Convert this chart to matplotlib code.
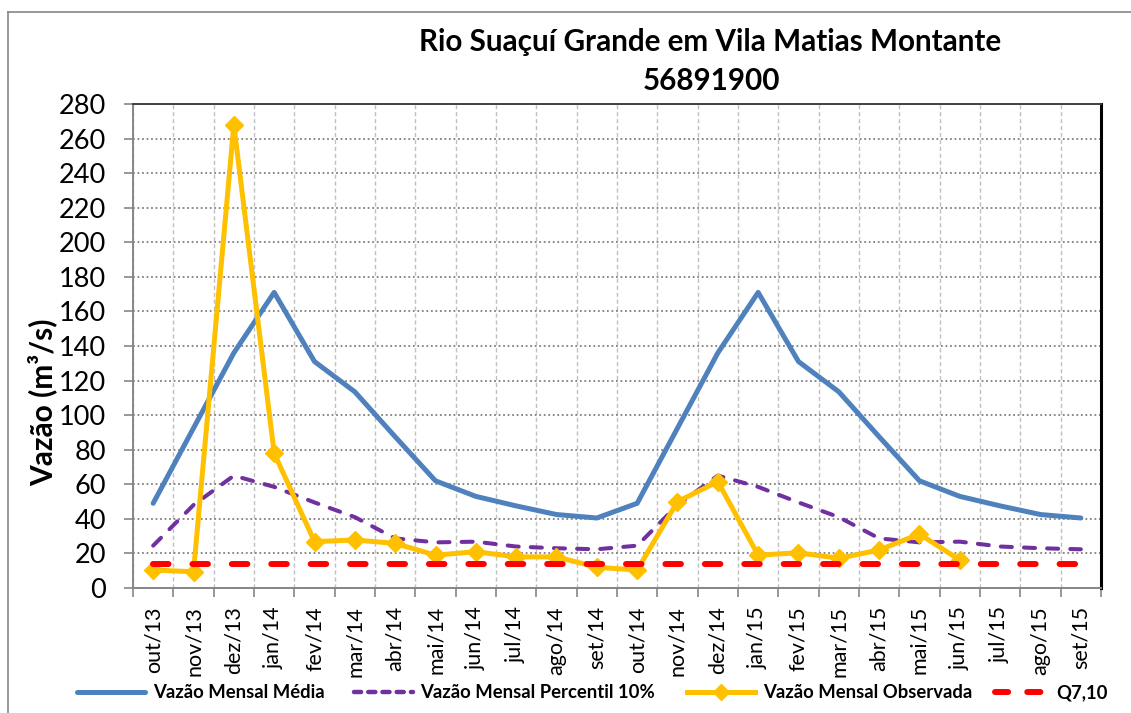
import numpy as np
import matplotlib
matplotlib.use('Agg')
import matplotlib.pyplot as plt
from matplotlib.lines import Line2D

plt.rcParams['font.family'] = ['Lato', 'DejaVu Sans']

meses = ['out/13', 'nov/13', 'dez/13', 'jan/14', 'fev/14', 'mar/14', 'abr/14', 'mai/14',
         'jun/14', 'jul/14', 'ago/14', 'set/14', 'out/14', 'nov/14', 'dez/14', 'jan/15',
         'fev/15', 'mar/15', 'abr/15', 'mai/15', 'jun/15', 'jul/15', 'ago/15', 'set/15']

# vazao media mensal (m3/s)
media = [49, 92.5, 136, 171, 131, 113.5, 87.5, 62, 53, 47.5, 42.5, 40.5,
         49, 92.5, 136, 171, 131, 113.5, 87.5, 62, 53, 47.5, 42.5, 40.5]
# percentil 10%
percentil10 = [24.5, 48, 65, 58.5, 49.5, 41, 28.7, 26.4, 26.8, 24, 23, 22.4,
               24.5, 48, 65, 58.5, 49.5, 41, 28.7, 26.4, 26.8, 24, 23, 22.4]
# vazao observada (sem dados depois de jun/15)
observada = [10.4, 9.4, 268, 78, 26.8, 27.8, 25.8, 19, 21, 18, 18, 12,
             10.4, 50, 61.5, 19, 20.4, 17.2, 22, 31.2, 16.2, None, None, None]
q710 = 13.7

x = np.arange(len(meses))
obs = np.array([np.nan if v is None else v for v in observada], dtype=float)

fig = plt.figure(figsize=(11.31, 7.13), dpi=100)
ax = fig.add_axes([133/1131, 1 - 588/713, 968/1131, 484/713])

ax.plot(x, media, color='#4F81BD', lw=3.6, solid_capstyle='round', zorder=3)
ax.plot(x, percentil10, color='#7030A0', lw=2.9, dashes=(2.75, 3.0),
        dash_capstyle='round', zorder=3)
ax.plot(x, obs, color='#FFC000', lw=3.6, marker='D', ms=9, mec='#FFC000', zorder=4)
ax.plot(x, [q710] * len(x), color='#FF0000', lw=4.3, dashes=(2.6, 4.0),
        dash_capstyle='round', zorder=5)

ax.set_xlim(-0.5, len(meses) - 0.5)
ax.set_ylim(0, 280)
ax.set_yticks(np.arange(0, 281, 20))
ax.tick_params(axis='y', labelsize=19.5, length=6.5, width=1.2, color='#868686', pad=13)

# ticks e grades nas divisas dos meses, rotulos no centro
ax.set_xticks(np.arange(-0.5, len(meses), 1))
ax.set_xticklabels([])
ax.set_xticks(x, minor=True)
ax.set_xticklabels(meses, minor=True, rotation=90, fontsize=15.5)
ax.tick_params(axis='x', which='major', length=6.5, width=1.2, color='#868686')
ax.tick_params(axis='x', which='minor', length=0, pad=13)

ax.grid(axis='y', color='#808080', ls=(0, (1, 1.5)), lw=1.3)
ax.grid(axis='x', which='major', color='#C0C0C0', ls=(0, (3, 2)), lw=1)

for s in ['left', 'bottom']:
    ax.spines[s].set_color('#868686')
    ax.spines[s].set_linewidth(1.4)
ax.spines['top'].set_color('#404040')
ax.spines['top'].set_linewidth(1.4)
ax.spines['right'].set_color('black')
ax.spines['right'].set_linewidth(2.2)

fig.text(42/1131, 1 - 402/713, 'Vazão (m³/s)', rotation=90, fontsize=21.5,
         fontweight='bold', ha='center', va='center')
fig.text(710/1131, 1 - 42/713, 'Rio Suaçuí Grande em Vila Matias Montante',
         fontsize=21.3, fontweight='bold', ha='center', va='center')
fig.text(711/1131, 1 - 81/713, '56891900', fontsize=21.3, fontweight='bold',
         ha='center', va='center')

# moldura externa
fig.add_artist(Line2D([8/1131, 8/1131], [0, 1 - 12/713], color='#868686', lw=1.2))
fig.add_artist(Line2D([8/1131, 1], [1 - 12/713, 1 - 12/713], color='#868686', lw=1.2))

# legenda
handles = [
    Line2D([], [], color='#4F81BD', lw=3.6, solid_capstyle='round'),
    Line2D([], [], color='#7030A0', lw=3.2, dashes=(1.6, 1.6), dash_capstyle='round'),
    Line2D([], [], color='#FFC000', lw=3.6, marker='D', ms=8),
    Line2D([], [], color='#FF0000', lw=4.3, dashes=(2.2, 3.2), dash_capstyle='round'),
]
nomes = ['Vazão Mensal Média', 'Vazão Mensal Percentil 10%',
         'Vazão Mensal Observada', 'Q7,10']
inicio = [77, 354, 687, 995]
comprimento = [3.7, 3.2, 3.7, 2.9]
for h, n, x0, hl in zip(handles, nomes, inicio, comprimento):
    fig.legend([h], [n], loc='center left', bbox_to_anchor=(x0/1131, 1 - 693/713),
               frameon=False, handlelength=hl, handletextpad=0.4,
               prop={'weight': 'bold', 'size': 13.3}, borderaxespad=0,
               borderpad=0)

fig.savefig('out.png', dpi=100)
